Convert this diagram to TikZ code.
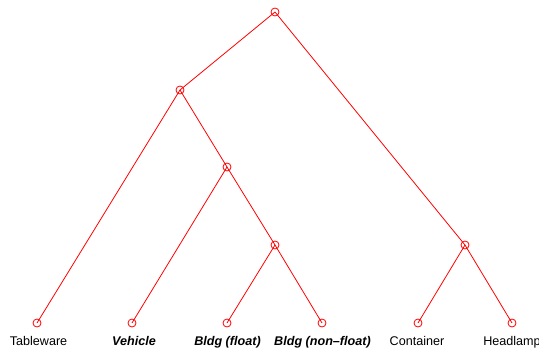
\documentclass[tikz,border=0pt]{standalone}
\usepackage{fontspec}
\setmainfont{Liberation Sans}
\begin{document}
\begin{tikzpicture}[x=1pt,y=-1pt,
  dot/.style={circle,draw=red,line width=0.8pt,inner sep=0pt,minimum size=8pt},
  edge/.style={draw=red,line width=0.8pt},
  lab/.style={anchor=base,inner sep=0pt,font=\fontsize{12.6}{14}\selectfont},
  blab/.style={lab,font=\fontsize{12.6}{14}\selectfont\bfseries\itshape}]
\useasboundingbox (0,0) rectangle (539,348);
\coordinate (r) at (275,12);
\coordinate (a) at (180,90);
\coordinate (b) at (227,167);
\coordinate (c) at (275,245);
\coordinate (d) at (465,245);
\coordinate (l1) at (37,323);
\coordinate (l2) at (132,323);
\coordinate (l3) at (227,323);
\coordinate (l4) at (322,323);
\coordinate (l5) at (418,323);
\coordinate (l6) at (512,323);
\draw[edge] (r) -- (a);
\draw[edge] (r) -- (d);
\draw[edge] (a) -- (l1);
\draw[edge] (a) -- (b);
\draw[edge] (b) -- (l2);
\draw[edge] (b) -- (c);
\draw[edge] (c) -- (l3);
\draw[edge] (c) -- (l4);
\draw[edge] (d) -- (l5);
\draw[edge] (d) -- (l6);
\foreach \n in {r,a,b,c,d,l1,l2,l3,l4,l5,l6} \node[dot] (n\n) at (\n) {};
\node[lab]  (t1) at (38.5,345) {Tableware};
\node[blab] (t2) at (134,345) {Vehicle};
\node[blab] (t3) at (227.5,345) {Bldg (float)};
\node[blab] (t4) at (322.5,345) {Bldg (non--float)};
\node[lab]  (t5) at (417,345) {Container};
\node[lab]  (t6) at (512,345) {Headlamp};
\end{tikzpicture}
\end{document}
